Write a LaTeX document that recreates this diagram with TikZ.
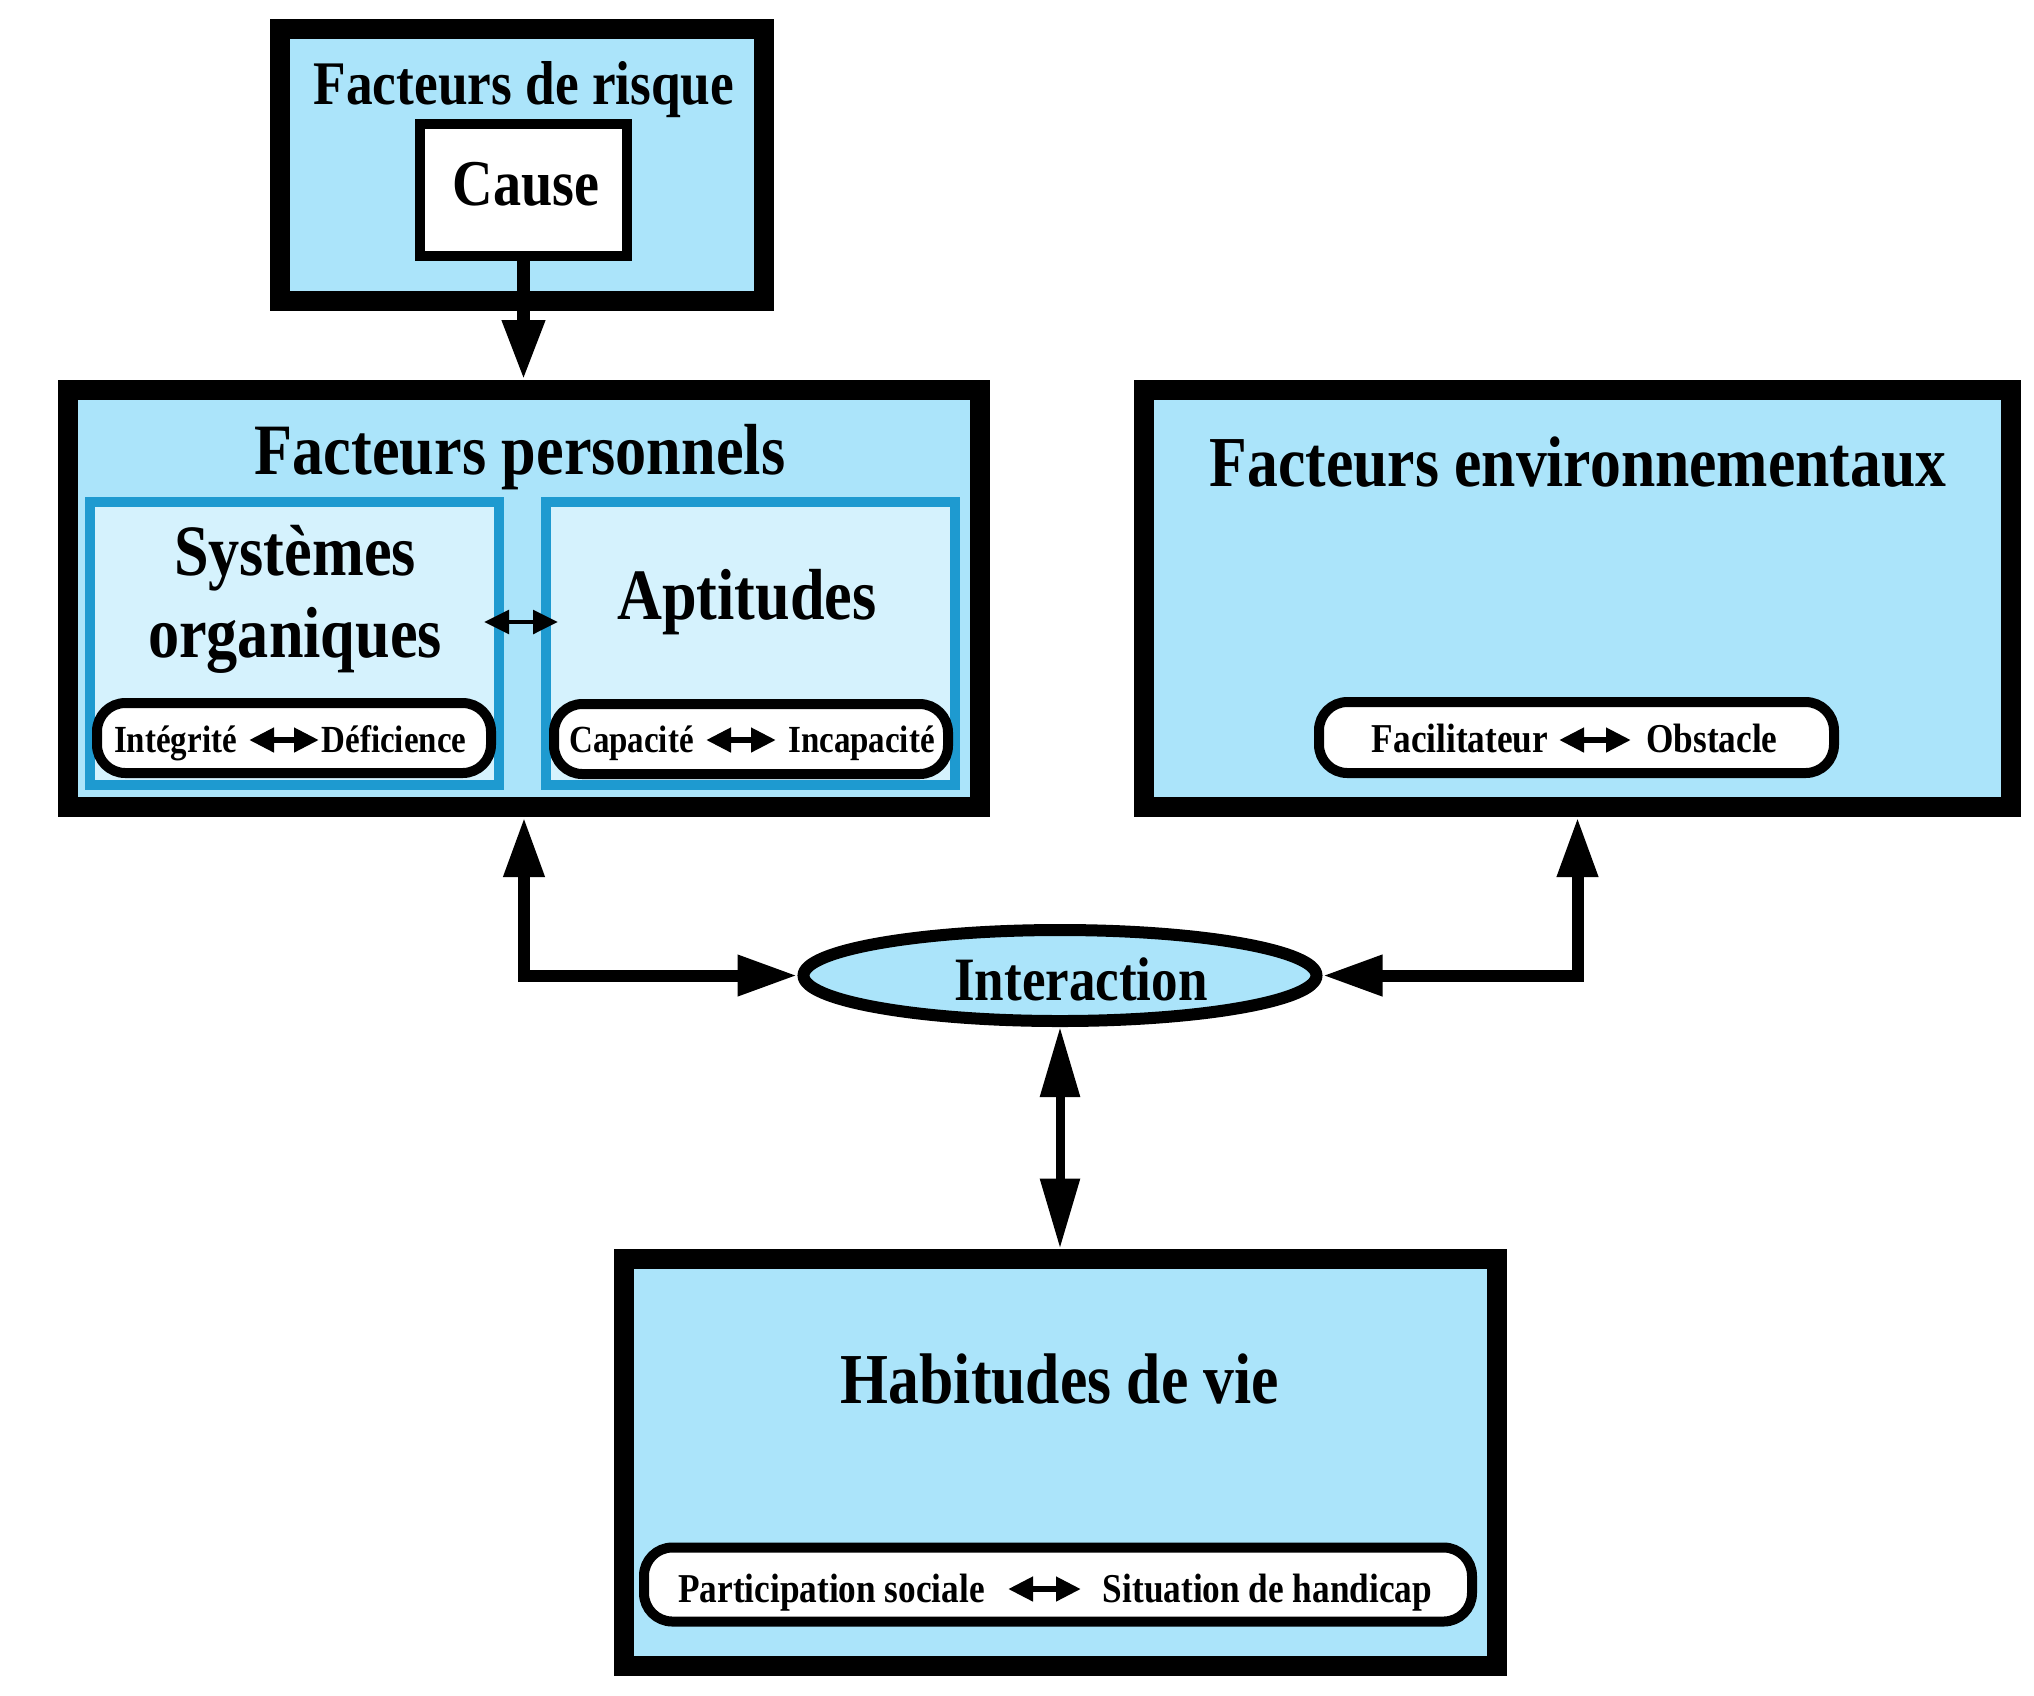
\documentclass[tikz,border=0pt]{standalone}
\usepackage{fontspec}
\newfontfamily\cf{Liberation Serif}[FakeStretch=0.86]
\usetikzlibrary{shapes.geometric,arrows.meta}
\definecolor{sky}{HTML}{ABE4FA}
\definecolor{pale}{HTML}{D5F2FD}
\definecolor{rim}{HTML}{1E9AD0}
\begin{document}
\begin{tikzpicture}[x=0.3pt,y=-0.3pt,
  bigbox/.style={draw=black, line width=6pt, fill=sky, inner sep=0pt, rectangle},
  causebox/.style={draw=black, line width=3pt, fill=white, inner sep=0pt, rectangle, minimum width=62.1pt, minimum height=39.6pt},
  innerbox/.style={draw=rim, line width=3pt, fill=pale, inner sep=0pt, rectangle, minimum width=122.7pt, minimum height=84.9pt},
  pill/.style={draw=black, line width=3pt, fill=white, inner sep=0pt, rectangle, rounded corners=8.5pt},
  ttl/.style={font=\cf\bfseries\fontsize{21.7pt}{25pt}\selectfont, inner sep=0pt, anchor=base},
  risknt/.style={font=\cf\bfseries\fontsize{18.6pt}{22pt}\selectfont, inner sep=0pt, anchor=base},
  causet/.style={font=\cf\bfseries\fontsize{19.6pt}{23pt}\selectfont, inner sep=0pt, anchor=base},
  bigttl/.style={font=\cf\bfseries\fontsize{21.5pt}{25pt}\selectfont, inner sep=0pt, anchor=base},
  small/.style={font=\cf\bfseries\fontsize{11.5pt}{13pt}\selectfont, inner sep=0pt, anchor=base},
  smallb/.style={font=\cf\bfseries\fontsize{12.3pt}{14pt}\selectfont, inner sep=0pt, anchor=base},
  bigarr/.style={line width=3.6pt, {Triangle[length=18pt,width=11.5pt]}-{Triangle[length=18pt,width=11.5pt]}},
  downarr/.style={line width=3.9pt, -{Triangle[length=18pt,width=12pt]}},
  medarr/.style={line width=2.7pt, {Triangle[length=21pt,width=11.4pt]}-{Triangle[length=21pt,width=11.4pt]}},
  smallarr/.style={line width=2pt, {Triangle[length=7.5pt,width=7pt]}-{Triangle[length=7.5pt,width=7pt]}},
  midarr/.style={line width=1.4pt, {Triangle[length=7.5pt,width=7pt]}-{Triangle[length=7.5pt,width=7pt]}}
]
\useasboundingbox (0,0) rectangle (2034,1695);

% Facteurs de risque
\node[bigbox, minimum width=145.2pt, minimum height=81.6pt] (risk) at (522,165) {};
\node[risknt] (risktitle) at (524,104) {Facteurs de risque};
\node[causebox] (cause) at (523.5,190) {};
\node[causet] (causetxt) at (526,205) {Cause};

% Facteurs personnels
\node[bigbox, minimum width=273.6pt, minimum height=125.1pt] (pers) at (524,598.5) {};
\node[ttl] (perstitle) at (520,474) {Facteurs personnels};
\node[innerbox] (sys) at (294,643) {};
\node[innerbox] (apt) at (750,643) {};
\node[ttl] (sys1) at (295,575) {Systèmes};
\node[ttl] (sys2) at (295,657) {organiques};
\node[ttl] (apttxt) at (747,619) {Aptitudes};
\coordinate (ma) at (484,622);
\coordinate (mb) at (558,622);
\draw[midarr] (ma) -- (mb);

\node[pill, minimum width=118.2pt, minimum height=21pt] (psys) at (294,738) {};
\node[small] (integ) at (175.5,752) {Intégrité};
\node[small] (defic) at (394,752) {Déficience};
\coordinate (a1) at (249,740);
\coordinate (b1) at (319,740);
\draw[smallarr] (a1) -- (b1);

\node[pill, minimum width=118.2pt, minimum height=21pt] (papt) at (751,739) {};
\node[small] (capa) at (631.5,752) {Capacité};
\node[small] (incapa) at (861.5,752) {Incapacité};
\coordinate (a2) at (706,740);
\coordinate (b2) at (776,740);
\draw[smallarr] (a2) -- (b2);

% Facteurs environnementaux
\node[bigbox, minimum width=260.1pt, minimum height=125.1pt] (env) at (1577.5,598.5) {};
\node[bigttl] (envtitle) at (1578,486) {Facteurs environnementaux};
\node[pill, minimum width=154.5pt, minimum height=21.3pt] (penv) at (1576.5,737.5) {};
\node[smallb] (facil) at (1460,752) {Facilitateur};
\node[smallb] (obst) at (1712,752) {Obstacle};
\coordinate (a3) at (1559,740);
\coordinate (b3) at (1631,740);
\draw[smallarr] (a3) -- (b3);

% Interaction
\node[ellipse, draw=black, line width=3.6pt, fill=sky, inner sep=0pt, minimum width=153.9pt, minimum height=27.3pt] (inter) at (1060,975.5) {};
\node[font=\cf\bfseries\fontsize{18.5pt}{22pt}\selectfont, inner sep=0pt, anchor=base] (intertxt) at (1081,1000) {Interaction};

% Habitudes de vie
\node[bigbox, minimum width=261.9pt, minimum height=122.1pt] (hab) at (1060,1462) {};
\node[bigttl] (habtitle) at (1060,1403) {Habitudes de vie};
\node[pill, minimum width=248.4pt, minimum height=22.2pt] (phab) at (1058,1584.5) {};
\node[smallb] (partic) at (831.5,1602) {Participation sociale};
\node[smallb] (situ) at (1267.5,1602) {Situation de handicap};
\coordinate (a4) at (1008,1589);
\coordinate (b4) at (1081,1589);
\draw[smallarr] (a4) -- (b4);

% connectors
\draw[downarr] (cause.south) -- (cause.south |- pers.north);
\draw[bigarr] (pers.south) |- (inter.west);
\draw[bigarr] (env.south) |- (inter.east);
\draw[medarr] (inter.south) -- (hab.north);
\end{tikzpicture}
\end{document}
